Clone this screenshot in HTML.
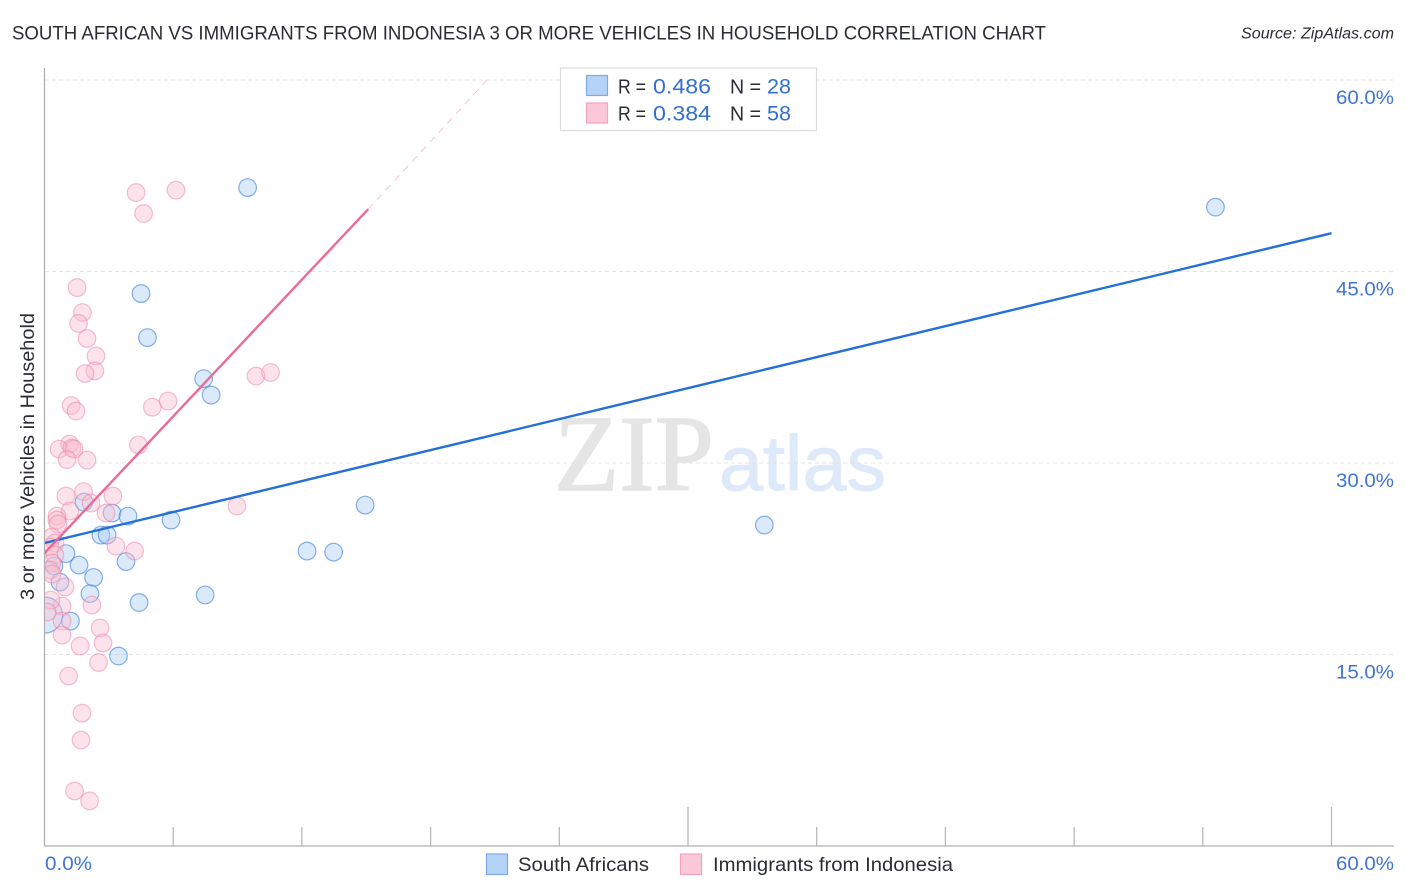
<!DOCTYPE html>
<html lang="en">
<head>
<meta charset="utf-8">
<title>South African vs Immigrants from Indonesia chart</title>
<style>
html,body{margin:0;padding:0;background:#fff;}
body{width:1406px;height:892px;overflow:hidden;}
svg{display:block;font-family:"Liberation Sans",sans-serif;}
</style>
</head>
<body>
<svg id="chart" xmlns="http://www.w3.org/2000/svg" width="1406" height="892" viewBox="0 0 1406 892">
  <defs>
    <clipPath id="plot-clip"><rect x="45" y="60" width="1349" height="786"/></clipPath>
  </defs>
  <text x="12" y="39.5" font-size="19.5" fill="#2a2d33" textLength="1034" lengthAdjust="spacingAndGlyphs">SOUTH AFRICAN VS IMMIGRANTS FROM INDONESIA 3 OR MORE VEHICLES IN HOUSEHOLD CORRELATION CHART</text>
  <text x="1241" y="38.5" font-size="15.5" font-style="italic" fill="#2a2d33" textLength="153" lengthAdjust="spacingAndGlyphs">Source: ZipAtlas.com</text>

  <g>
    <text x="554" y="490" font-family="'Liberation Serif',serif" font-size="108" fill="#e5e5e5" stroke="#e5e5e5" stroke-width="1.4" textLength="160" lengthAdjust="spacingAndGlyphs">ZIP</text>
    <text x="719" y="490" font-size="78" fill="#deE9f9" stroke="#deE9f9" stroke-width="1" textLength="167" lengthAdjust="spacingAndGlyphs">atlas</text>
  </g>

  <g id="grid"></g>
  <g id="y-labels"></g>
  <g id="x-ticks"></g>

  <line x1="44.5" y1="68" x2="44.5" y2="846" stroke="#b0b0b0" stroke-width="1.3"/>
  <line x1="44" y1="846" x2="1394" y2="846" stroke="#b0b0b0" stroke-width="1.3"/>

  <g id="points-blue" clip-path="url(#plot-clip)"></g>
  <g id="points-pink" clip-path="url(#plot-clip)"></g>
  <g id="trends" clip-path="url(#plot-clip)"></g>

  <text transform="translate(34 600) rotate(-90)" x="0" y="0" font-size="19" fill="#2a2d33" textLength="287" lengthAdjust="spacingAndGlyphs">3 or more Vehicles in Household</text>
  <text x="45" y="870" font-size="19.5" fill="#3f74d6" textLength="47" lengthAdjust="spacingAndGlyphs">0.0%</text>
  <text x="1336" y="870" font-size="19.5" fill="#3f74d6" textLength="58" lengthAdjust="spacingAndGlyphs">60.0%</text>

  <g>
    <rect x="560.5" y="68" width="256" height="62.5" fill="#fff" fill-opacity="0.9" stroke="#dcdcdc" stroke-width="1.2"/>
    <rect x="586.5" y="75.5" width="21" height="20" fill="#b5d2f7" stroke="#7fa9e4" stroke-width="1.2"/>
    <rect x="586.5" y="103" width="21" height="20" fill="#fbc8da" stroke="#f2a4bf" stroke-width="1.2"/>
    <text x="618" y="93.5" font-size="20" fill="#2a2d33" textLength="28" lengthAdjust="spacingAndGlyphs">R =</text>
    <text x="653" y="93.5" font-size="21" fill="#3270d0" textLength="58" lengthAdjust="spacingAndGlyphs">0.486</text>
    <text x="730" y="93.5" font-size="20" fill="#2a2d33" textLength="31" lengthAdjust="spacingAndGlyphs">N =</text>
    <text x="767" y="93.5" font-size="21" fill="#3270d0" textLength="24" lengthAdjust="spacingAndGlyphs">28</text>
    <text x="618" y="120.5" font-size="20" fill="#2a2d33" textLength="28" lengthAdjust="spacingAndGlyphs">R =</text>
    <text x="653" y="120.5" font-size="21" fill="#3270d0" textLength="58" lengthAdjust="spacingAndGlyphs">0.384</text>
    <text x="730" y="120.5" font-size="20" fill="#2a2d33" textLength="31" lengthAdjust="spacingAndGlyphs">N =</text>
    <text x="767" y="120.5" font-size="21" fill="#3270d0" textLength="24" lengthAdjust="spacingAndGlyphs">58</text>
  </g>

  <g>
    <rect x="486.5" y="854" width="21" height="20.5" fill="#b5d2f7" stroke="#7fa9e4" stroke-width="1.2"/>
    <text x="518" y="871" font-size="19.5" fill="#2a2d33" textLength="131" lengthAdjust="spacingAndGlyphs">South Africans</text>
    <rect x="680.5" y="854" width="21" height="20.5" fill="#fbc8da" stroke="#f2a4bf" stroke-width="1.2"/>
    <text x="713" y="871" font-size="19.5" fill="#2a2d33" textLength="240" lengthAdjust="spacingAndGlyphs">Immigrants from Indonesia</text>
  </g>
</svg>

<script>
const yTicks = [15, 30, 45, 60];
const yTickLabels = ["15.0%", "30.0%", "45.0%", "60.0%"];
const xTicks = [6, 12, 18, 24, 30, 36, 42, 48, 54, 60];
const xMajorTicks = [30, 60];

const southAfricansX = [9.47, 54.59, 4.50, 4.80, 7.42, 7.77, 1.84, 3.15, 3.89, 5.90, 14.95, 33.56, 2.63, 2.92, 12.24, 13.48, 1.00, 3.80, 0.44, 1.61, 2.29, 0.72, 2.12, 4.41, 7.49, 1.21, 3.45, 0.00];
const southAfricansY = [51.57, 50.04, 43.27, 39.82, 36.61, 35.32, 26.94, 26.08, 25.84, 25.53, 26.70, 25.14, 24.35, 24.35, 23.10, 23.02, 22.90, 22.28, 21.93, 22.00, 21.03, 20.67, 19.77, 19.07, 19.66, 17.62, 14.88, 18.09];
const southAfricansWeight = [1, 1, 1, 1, 1, 1, 1, 1, 1, 1, 1, 1, 1, 1, 1, 1, 1, 1, 1, 1, 1, 1, 1, 1, 1, 1, 1, 4.2];

const immigrantsX = [4.27, 6.13, 4.62, 1.52, 1.77, 1.59, 1.98, 2.40, 2.35, 1.89, 1.24, 1.47, 5.76, 5.03, 9.86, 10.54, 4.38, 1.17, 0.68, 1.28, 1.38, 1.05, 1.98, 1.82, 1.00, 3.19, 2.17, 1.19, 0.58, 8.97, 2.87, 0.58, 0.63, 0.35, 0.49, 3.33, 4.20, 0.26, 0.49, 0.35, 0.26, 0.35, 0.96, 2.21, 0.82, 0.30, 0.12, 0.82, 0.82, 2.59, 2.73, 1.66, 2.52, 1.12, 1.75, 1.70, 1.40, 2.10];
const immigrantsY = [51.18, 51.37, 49.54, 43.74, 41.79, 40.93, 39.75, 38.38, 37.21, 37.01, 34.50, 34.07, 34.85, 34.37, 36.81, 37.09, 31.41, 31.48, 31.09, 31.17, 31.09, 30.27, 30.23, 27.76, 27.41, 27.41, 26.86, 26.24, 25.85, 26.63, 26.08, 25.53, 25.22, 24.20, 23.73, 23.49, 23.10, 23.42, 22.79, 22.17, 21.62, 21.30, 20.29, 18.87, 18.79, 19.26, 18.33, 17.62, 16.52, 17.07, 15.90, 15.67, 14.37, 13.31, 10.41, 8.30, 4.31, 3.53];

const southAfricansTrendX = [0, 60];
const southAfricansTrendY = [23.73, 48.0];
const immigrantsTrendX = [0, 15.09];
const immigrantsTrendY = [22.94, 49.88];
const immigrantsForecastX = [15.09, 20.64];
const immigrantsForecastY = [49.88, 60];

const SVG_NS = "http://www.w3.org/2000/svg";
function xScale(v) { return 44.5 + v * 21.45; }
function yScale(v) { return 846 - v * 12.767; }
function make(tag, attrs, parent) {
  const el = document.createElementNS(SVG_NS, tag);
  for (const k in attrs) el.setAttribute(k, attrs[k]);
  parent.appendChild(el);
  return el;
}

const gridGroup = document.getElementById("grid");
const yLabelGroup = document.getElementById("y-labels");
yTicks.forEach(function (t, i) {
  const py = yScale(t);
  const gl = make("line", {x1: 45, x2: 1394, y1: py, y2: py, stroke: "#e4e4e4", "stroke-width": 1, "stroke-dasharray": "4 3"}, gridGroup);
  
  
  const lb = make("text", {x: 1336, y: py + 24, "font-size": 19.5, fill: "#3f74d6", textLength: 58, lengthAdjust: "spacingAndGlyphs"}, yLabelGroup);
  
  
  lb.textContent = yTickLabels[i];
});

const xTickGroup = document.getElementById("x-ticks");
xTicks.forEach(function (t) {
  const px = xScale(t);
  const major = xMajorTicks.indexOf(t) >= 0;
  const tk = make("line", {x1: px, x2: px, y1: major ? 807 : 827, y2: 846, stroke: "#b8b8b8", "stroke-width": 1.3}, xTickGroup);
  
  
});

function drawPoints(groupId, xs, ys, weights, fill, stroke, strokeOpacity, name) {
  const group = document.getElementById(groupId);
  xs.forEach(function (v, i) {
    const w = weights ? weights[i] : 1;
    const c = make("circle", {cx: xScale(v), cy: yScale(ys[i]), r: 8.8 * Math.sqrt(w), fill: fill, "fill-opacity": 0.42, stroke: stroke, "stroke-opacity": strokeOpacity, "stroke-width": 1.2}, group);
    
    
  });
}
drawPoints("points-blue", southAfricansX, southAfricansY, southAfricansWeight, "#a9ccf6", "#3f80dc", 0.62, "south-africans-point");
drawPoints("points-pink", immigrantsX, immigrantsY, null, "#f9bcd0", "#ec7fa3", 0.5, "immigrants-point");

const trendGroup = document.getElementById("trends");
const trendBlue = make("line", {x1: xScale(southAfricansTrendX[0]), y1: yScale(southAfricansTrendY[0]), x2: xScale(southAfricansTrendX[1]), y2: yScale(southAfricansTrendY[1]), stroke: "#2470d8", "stroke-width": 2.4}, trendGroup);


const trendPink = make("line", {x1: xScale(immigrantsTrendX[0]), y1: yScale(immigrantsTrendY[0]), x2: xScale(immigrantsTrendX[1]), y2: yScale(immigrantsTrendY[1]), stroke: "#ea6c96", "stroke-width": 2.4}, trendGroup);


const forecastPink = make("line", {x1: xScale(immigrantsForecastX[0]), y1: yScale(immigrantsForecastY[0]), x2: xScale(immigrantsForecastX[1]), y2: yScale(immigrantsForecastY[1]), stroke: "#f2b6ca", "stroke-width": 0.8, "stroke-dasharray": "7 6"}, trendGroup);


</script>
</body>
</html>
